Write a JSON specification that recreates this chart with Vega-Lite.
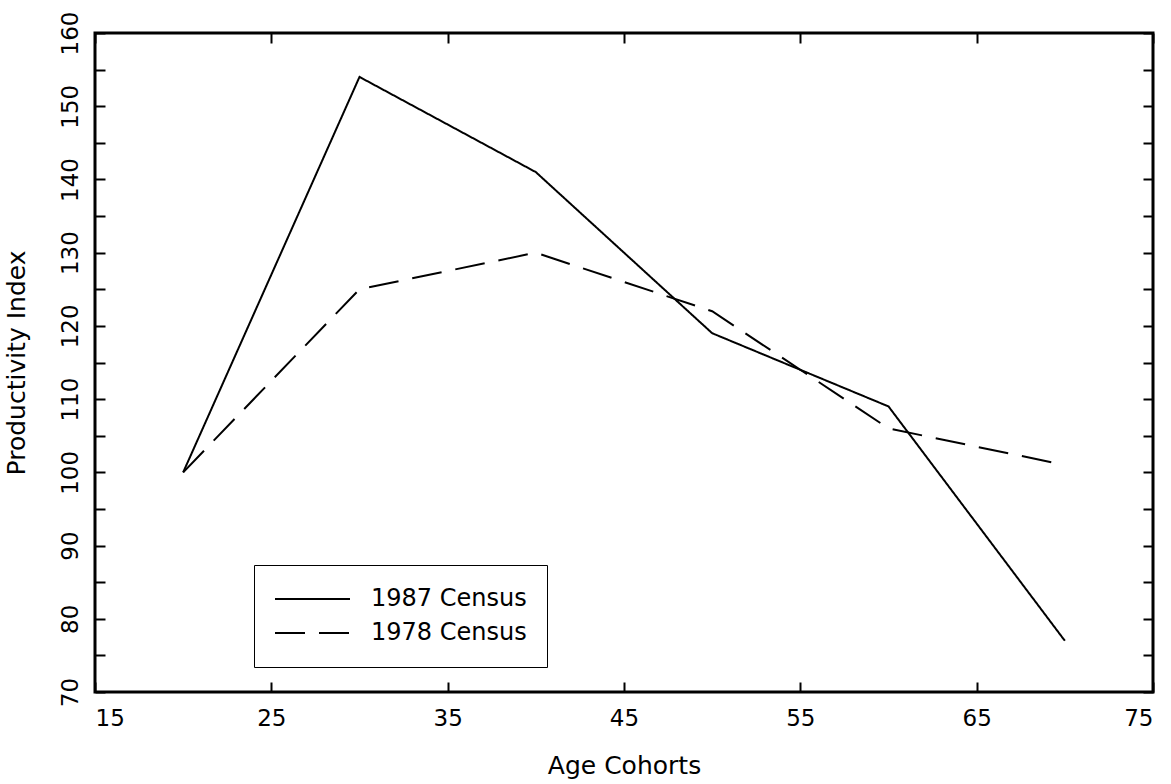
{
  "$schema": "https://vega.github.io/schema/vega-lite/v6.json",
  "width": 1058,
  "height": 659,
  "autosize": {"type": "none"},
  "padding": {"left": 95, "top": 33, "right": 18, "bottom": 92},
  "background": "white",
  "config": {
    "view": {"stroke": "black", "strokeWidth": 3},
    "font": "DejaVu Sans",
    "axis": {
      "domain": false,
      "grid": false,
      "tickColor": "black",
      "tickWidth": 2,
      "tickSize": -10,
      "labelColor": "black",
      "labelFontSize": 23,
      "titleColor": "black",
      "titleFontSize": 25,
      "titleFontWeight": "normal"
    }
  },
  "data": {
    "values": [
      {"series": "1987 Census", "age": 20, "index": 100},
      {"series": "1987 Census", "age": 30, "index": 154},
      {"series": "1987 Census", "age": 40, "index": 141},
      {"series": "1987 Census", "age": 50, "index": 119},
      {"series": "1987 Census", "age": 60, "index": 109},
      {"series": "1987 Census", "age": 70, "index": 77},
      {"series": "1978 Census", "age": 20, "index": 100},
      {"series": "1978 Census", "age": 30, "index": 125},
      {"series": "1978 Census", "age": 40, "index": 130},
      {"series": "1978 Census", "age": 50, "index": 122},
      {"series": "1978 Census", "age": 60, "index": 106},
      {"series": "1978 Census", "age": 70, "index": 101}
    ]
  },
  "layer": [
    {
      "mark": {"type": "line", "color": "black", "strokeWidth": 2},
      "encoding": {
        "x": {
          "field": "age", "type": "quantitative",
          "scale": {"domain": [15, 75], "nice": false, "zero": false},
          "axis": {
            "orient": "bottom", "title": "Age Cohorts",
            "values": [15, 25, 35, 45, 55, 65, 75],
            "labelPadding": 25, "titlePadding": 23
          }
        },
        "y": {
          "field": "index", "type": "quantitative",
          "scale": {"domain": [70, 160], "nice": false, "zero": false},
          "axis": {
            "orient": "left", "title": "Productivity Index",
            "values": [70, 75, 80, 85, 90, 95, 100, 105, 110, 115, 120, 125, 130, 135, 140, 145, 150, 155, 160],
            "labelExpr": "datum.value % 10 == 0 ? datum.label : ''",
            "labelAngle": 270, "labelAlign": "center", "labelBaseline": "bottom",
            "labelFlush": false,
            "labelPadding": 23, "titlePadding": 30
          }
        },
        "strokeDash": {
          "field": "series", "type": "nominal",
          "scale": {"domain": ["1987 Census", "1978 Census"], "range": [[1, 0], [30, 14]]},
          "legend": {
            "orient": "none", "legendX": 159, "legendY": 532,
            "title": null,
            "strokeColor": "black", "fillColor": "white",
            "padding": 20,
            "symbolType": "stroke", "symbolSize": 5625, "symbolStrokeWidth": 2,
            "symbolStrokeColor": "black",
            "clipHeight": 28,
            "labelFontSize": 24, "labelColor": "black", "labelOffset": 20,
            "rowPadding": 6
          }
        }
      }
    },
    {
      "mark": {"type": "line", "opacity": 0},
      "encoding": {
        "x": {
          "field": "age", "type": "quantitative",
          "scale": {"domain": [15, 75], "nice": false, "zero": false},
          "axis": {"orient": "top", "title": null, "labels": false, "values": [15, 25, 35, 45, 55, 65, 75]}
        },
        "y": {
          "field": "index", "type": "quantitative",
          "scale": {"domain": [70, 160], "nice": false, "zero": false},
          "axis": {"orient": "right", "title": null, "labels": false,
            "values": [70, 75, 80, 85, 90, 95, 100, 105, 110, 115, 120, 125, 130, 135, 140, 145, 150, 155, 160]}
        },
        "detail": {"field": "series"}
      }
    }
  ],
  "resolve": {"axis": {"x": "independent", "y": "independent"}}
}
